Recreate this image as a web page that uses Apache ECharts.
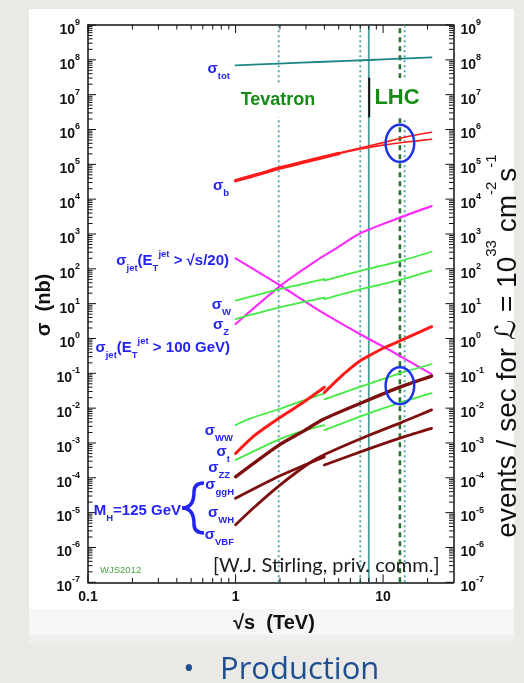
<!DOCTYPE html>
<html>
<head>
<meta charset="utf-8">
<script src="https://cdn.jsdelivr.net/npm/echarts@6/dist/echarts.min.js"></script>
<style>
  html, body { margin: 0; padding: 0; }
  body { width: 524px; height: 683px; background: #ebe9e5; position: relative; overflow: hidden; }
  #panel { position: absolute; left: 29px; top: 9px; width: 485px; height: 600px; background: #ffffff; }
  #band  { position: absolute; left: 29px; top: 609px; width: 485px; height: 26px; background: #f6f6f6; }
  #band2 { position: absolute; left: 29px; top: 635px; width: 485px; height: 8px; background: #efefef; }
  #chart { position: absolute; left: 0; top: 0; width: 524px; height: 683px; }
</style>
</head>
<body>
<div id="panel"></div><div id="band"></div><div id="band2"></div>
<div id="chart"></div>
<script>
// ---- axis ranges and ticks ----
const X_MIN = 0.1, X_MAX = 30;
const Y_MIN = 1e-7, Y_MAX = 1e9;
const xMajorTicks = [0.1, 1, 10];
const xMinorTicks = [0.2, 0.3, 0.4, 0.5, 0.6, 0.7, 0.8, 0.9, 2, 3, 4, 5, 6, 7, 8, 9, 20];
const yDecadeExps = [-7, -6, -5, -4, -3, -2, -1, 0, 1, 2, 3, 4, 5, 6, 7, 8, 9];
const yMinorMultipliers = [2, 3, 4, 5, 6, 7, 8, 9];

// ---- cross sections [sqrt(s) in TeV, sigma in nb] ----
const sigTot        = [[1, 6.9e7], [1.96, 7.8e7], [4, 8.8e7], [8, 9.9e7], [13, 1.08e8], [21.3, 1.17e8]];
const sigB          = [[1, 3.4e4], [1.5, 5.5e4], [1.96, 7.7e4], [3, 1.2e5], [4, 1.62e5], [5, 2.04e5]];
const sigBUpper     = [[5, 2.1e5], [7, 2.95e5], [10, 4.2e5], [14, 6.0e5], [21.3, 8.3e5]];
const sigBLower     = [[5, 2.0e5], [7, 2.75e5], [10, 3.55e5], [14, 4.3e5], [21.3, 5.25e5]];
const sigJetScaled  = [[1, 200], [1.96, 35.5], [3.7, 6.3], [7, 1.32], [11.2, 0.45], [21.3, 0.095]];
const sigJet100     = [[1, 2.6], [2.04, 34], [3.57, 178], [4.87, 400], [7, 1050], [13.1, 3000], [21.3, 6300]];
const sigWppbar     = [[1, 12.2], [1.96, 25.7], [4, 51]];
const sigWpp        = [[4, 45.7], [7, 87], [13, 166], [21.3, 309]];
const sigZppbar     = [[1, 3.62], [1.96, 7.66], [4, 14.8]];
const sigZpp        = [[4, 13.5], [7, 25.7], [13, 47.9], [21.3, 89]];
const sigWWppbar    = [[1, 3.27e-3], [1.25, 5.0e-3], [1.96, 9.3e-3], [2.8, 1.58e-2], [4, 2.63e-2]];
const sigWWpp       = [[4, 1.79e-2], [8, 5.0e-2], [13, 0.1], [21.3, 0.185]];
const sigTppbar     = [[1, 5.0e-4], [1.31, 1.5e-3], [1.74, 3.6e-3], [2.3, 7.9e-3], [3, 1.66e-2], [4, 3.98e-2]];
const sigTpp        = [[4, 2.82e-2], [5, 7.08e-2], [6, 0.138], [7, 0.229], [8, 0.316], [10, 0.525], [13, 0.851], [16, 1.26], [21.3, 2.18]];
const sigZZppbar    = [[1, 3.24e-4], [1.98, 1.27e-3], [2.89, 2.25e-3], [4, 3.27e-3]];
const sigZZpp       = [[4, 2.34e-3], [8, 7.1e-3], [13.6, 1.51e-2], [21.3, 2.69e-2]];
const sigGGH        = [[1, 1.07e-4], [1.97, 8.7e-4], [2.89, 2.19e-3], [3.94, 4.8e-3], [7.8, 1.66e-2], [13.1, 4.07e-2], [21.3, 8.3e-2]];
const sigWHppbar    = [[1, 2.57e-5], [1.98, 1.12e-4], [3, 2.4e-4], [4, 3.98e-4]];
const sigWHpp       = [[4, 2.34e-4], [8, 6.8e-4], [13.5, 1.45e-3], [21.3, 2.63e-3]];
const sigVBF        = [[1, 4.47e-6], [1.31, 1.32e-5], [1.98, 6.0e-5], [3.21, 2.75e-4], [4.08, 4.8e-4], [7.8, 1.58e-3], [13.5, 3.98e-3], [21.3, 8.9e-3]];

// ---- collider energies (TeV) ----
const tevatronEnergy = 1.96;
const lhcEnergies = [7, 8, 13, 14];
const lhcSeparator = [[8.05, 2.24e6], [8.05, 3.07e7]];
const highlightCenters = [[13, 4.0e5], [13, 0.044]];

const BLUE = '#2424f2';
const FONT = "'Liberation Sans', Arial, Helvetica, sans-serif";
const RED = '#ff1a1a', MAGENTA = '#ff2cff', GREEN = '#42ec42', BROWN = '#7d0f0f', TEAL = '#1d8585';

function curve(data, color, width, extra) {
  return Object.assign({
    type: 'line', data: data, showSymbol: false, smooth: 0.25, silent: true, z: 3,
    lineStyle: { color: color, width: width, cap: 'round' }
  }, extra || {});
}
function vline(x, style, yFrom, yTo) {
  return {
    type: 'line', data: [[x, yFrom], [x, yTo]], showSymbol: false, silent: true, z: 2,
    lineStyle: style
  };
}

// tick items: [x, y, kind(0 = x tick, 1 = y tick), length]
const tickData = [];
xMajorTicks.forEach(v => tickData.push([v, 1, 0, 8]));
xMinorTicks.forEach(v => tickData.push([v, 1, 0, 4.5]));
yDecadeExps.forEach(e => {
  tickData.push([1, Math.pow(10, e), 1, 8]);
  if (e < 9) yMinorMultipliers.forEach(m => tickData.push([1, m * Math.pow(10, e), 1, 4.5]));
});

function renderTick(params, api) {
  const kind = api.value(2), len = api.value(3);
  const st = { stroke: '#111', lineWidth: 1 };
  if (kind === 0) {
    const x = api.value(0);
    const b = api.coord([x, Y_MIN]), t = api.coord([x, Y_MAX]);
    return { type: 'group', children: [
      { type: 'line', shape: { x1: b[0], y1: b[1], x2: b[0], y2: b[1] - len }, style: st },
      { type: 'line', shape: { x1: t[0], y1: t[1], x2: t[0], y2: t[1] + len }, style: st }
    ]};
  }
  const y = api.value(1);
  const l = api.coord([X_MIN, y]), r = api.coord([X_MAX, y]);
  return { type: 'group', children: [
    { type: 'line', shape: { x1: l[0], y1: l[1], x2: l[0] + len, y2: l[1] }, style: st },
    { type: 'line', shape: { x1: r[0], y1: r[1], x2: r[0] - len, y2: r[1] }, style: st }
  ]};
}

function renderEllipse(params, api) {
  const p = api.coord([api.value(0), api.value(1)]);
  return { type: 'ellipse', shape: { cx: p[0], cy: p[1], rx: 14.3, ry: 18.5 },
           style: { fill: 'none', stroke: '#1e32eb', lineWidth: 2.5 } };
}

function powLabel(v) {
  const l = Math.log10(v), e = Math.round(l);
  if (Math.abs(l - e) > 1e-6) return '';
  return '{b|10}{e|' + e + '}';
}
function xLabel(v) {
  const l = Math.log10(v), e = Math.round(l);
  if (Math.abs(l - e) > 1e-6) return '';
  return e === -1 ? '0.1' : e === 0 ? '1' : '10';
}
const powRich = {
  b: { fontSize: 14, fontWeight: 'bold', fontFamily: FONT, color: '#111', lineHeight: 14, verticalAlign: 'top', padding: [5, 0, 0, 0] },
  e: { fontSize: 9, fontWeight: 'bold', fontFamily: FONT, color: '#111', lineHeight: 9, verticalAlign: 'top' }
};

// rich styles for the blue annotations
function tok(size, pad, weight, color, extra) {
  return Object.assign({ fontSize: size, fontWeight: weight || 'bold', fontFamily: FONT,
    fill: color || BLUE, color: color || BLUE, lineHeight: size, verticalAlign: 'top', padding: [pad, 0, 0, 0] }, extra || {});
}
const sigRich = { s: tok(15, 4), sub: tok(9.5, 14), sup: tok(9.5, 0) };
function sigLabel(text, x, y) {
  return { type: 'text', z: 100, x: x, y: y,
    style: { text: text, rich: sigRich, align: 'right', verticalAlign: 'middle', fill: BLUE } };
}

const titleRich = {
  n: tok(28, 10, 'normal', '#111'),
  L: tok(28, 10, 'normal', '#111', { fontStyle: 'italic', fontFamily: "'DejaVu Serif', 'DejaVu Sans', serif" }),
  p: tok(15, 0, 'normal', '#111')
};

const option = {
  animation: false,
  grid: { left: 88, right: 70.5, top: 25, bottom: 100.7 },
  xAxis: [
    { type: 'log', logBase: 10, min: X_MIN, max: X_MAX, interval: 1, position: 'bottom',
      axisLine: { lineStyle: { color: '#111', width: 1.5 } }, axisTick: { show: false }, splitLine: { show: false },
      axisLabel: { formatter: xLabel, interval: 0, margin: 8, fontSize: 14, fontWeight: 'bold', fontFamily: FONT, color: '#111', lineHeight: 14, showMinLabel: true } },
    { type: 'log', logBase: 10, min: X_MIN, max: X_MAX, interval: 1, position: 'top',
      axisLine: { lineStyle: { color: '#111', width: 1.5 } }, axisTick: { show: false }, splitLine: { show: false },
      axisLabel: { show: false } }
  ],
  yAxis: [
    { type: 'log', logBase: 10, min: Y_MIN, max: Y_MAX, interval: 1, position: 'left',
      axisLine: { show: true, lineStyle: { color: '#111', width: 1.5 } }, axisTick: { show: false }, splitLine: { show: false },
      axisLabel: { formatter: powLabel, rich: powRich, interval: 0, margin: 8, align: 'right', showMinLabel: true, showMaxLabel: true } },
    { type: 'log', logBase: 10, min: Y_MIN, max: Y_MAX, interval: 1, position: 'right',
      axisLine: { show: true, lineStyle: { color: '#111', width: 1.5 } }, axisTick: { show: false }, splitLine: { show: false },
      axisLabel: { formatter: powLabel, rich: powRich, interval: 0, margin: 7, align: 'left', showMinLabel: true, showMaxLabel: true } }
  ],
  series: [
    // collider energies
    vline(tevatronEnergy, { color: '#4aa3a3', width: 1.8, type: [2, 3] }, Y_MIN, Y_MAX),
    vline(lhcEnergies[0], { color: '#4aa3a3', width: 1.8, type: [2, 3] }, Y_MIN, Y_MAX),
    vline(lhcEnergies[1], { color: '#4d9e9a', width: 1.8 }, Y_MIN, Y_MAX),
    vline(lhcEnergies[2], { color: '#2f6f2f', width: 2.6, type: [5, 4] }, Y_MIN, Y_MAX),
    vline(lhcEnergies[3], { color: '#4aa3a3', width: 1.8, type: [2, 3] }, Y_MIN, Y_MAX),
    vline(lhcSeparator[0][0], { color: '#111', width: 2 }, lhcSeparator[0][1], lhcSeparator[1][1]),
    // cross sections
    curve(sigTot, TEAL, 1.8),
    curve(sigB, RED, 3.5),
    curve(sigBUpper, RED, 1.6),
    curve(sigBLower, RED, 1.6),
    curve(sigJetScaled, MAGENTA, 2.2),
    curve(sigJet100, MAGENTA, 2.2),
    curve(sigWppbar, GREEN, 1.8), curve(sigWpp, GREEN, 1.8),
    curve(sigZppbar, GREEN, 1.8), curve(sigZpp, GREEN, 1.8),
    curve(sigWWppbar, GREEN, 1.8), curve(sigWWpp, GREEN, 1.8),
    curve(sigZZppbar, GREEN, 1.8), curve(sigZZpp, GREEN, 1.8),
    curve(sigTppbar, RED, 3), curve(sigTpp, RED, 3),
    curve(sigGGH, BROWN, 3.4),
    curve(sigWHppbar, BROWN, 2.8), curve(sigWHpp, BROWN, 2.8),
    curve(sigVBF, BROWN, 2.8),
    // highlighted LHC 13 TeV points
    { type: 'custom', data: highlightCenters, renderItem: renderEllipse, silent: true, z: 6 },
    // axis ticks (inside, on all four sides)
    { type: 'custom', data: tickData, renderItem: renderTick, silent: true, z: 8 }
  ],
  graphic: [
    // collider names
    { type: 'text', z: 100, x: 278, y: 100, style: { text: 'Tevatron', fontSize: 18, fontWeight: 'bold', fontFamily: FONT, fill: '#168c16',
      align: 'center', verticalAlign: 'middle', backgroundColor: '#fff', padding: [8, 2] } },
    { type: 'text', z: 100, x: 397, y: 98, style: { text: 'LHC', fontSize: 22, fontWeight: 'bold', fontFamily: FONT, fill: '#168c16',
      align: 'center', verticalAlign: 'middle', backgroundColor: '#fff', padding: [9, 3] } },
    // process labels
    sigLabel('{s|σ}{sub|tot}', 230, 65),
    sigLabel('{s|σ}{sub|b}', 229, 182),
    sigLabel('{s|σ}{sub|jet}{s|(E}{sub|T}{sup|jet}{s| > √s/20)}', 229, 257),
    sigLabel('{s|σ}{sub|W}', 231, 301),
    sigLabel('{s|σ}{sub|Z}', 229, 321),
    sigLabel('{s|σ}{sub|jet}{s|(E}{sub|T}{sup|jet}{s| > 100 GeV)}', 230, 344),
    sigLabel('{s|σ}{sub|WW}', 233, 427),
    sigLabel('{s|σ}{sub|t}', 230, 448),
    sigLabel('{s|σ}{sub|ZZ}', 230, 464),
    sigLabel('{s|σ}{sub|ggH}', 234, 481),
    sigLabel('{s|σ}{sub|WH}', 234, 509),
    sigLabel('{s|σ}{sub|VBF}', 234, 531),
    sigLabel('{s|M}{sub|H}{s|=125 GeV}', 181, 507),
    // Higgs brace
    { type: 'bezierCurve', z: 100, shape: { x1: 204, y1: 483, cpx1: 197, cpy1: 483, cpx2: 194, cpy2: 486, x2: 194, y2: 492 }, style: { stroke: BLUE, lineWidth: 3.5, fill: 'none' } },
    { type: 'bezierCurve', z: 100, shape: { x1: 194, y1: 492, cpx1: 194, cpy1: 503, cpx2: 190, cpy2: 508, x2: 182, y2: 508 }, style: { stroke: BLUE, lineWidth: 3.5, fill: 'none' } },
    { type: 'bezierCurve', z: 100, shape: { x1: 182, y1: 508, cpx1: 190, cpy1: 508, cpx2: 194, cpy2: 513, x2: 194, y2: 524 }, style: { stroke: BLUE, lineWidth: 3.5, fill: 'none' } },
    { type: 'bezierCurve', z: 100, shape: { x1: 194, y1: 524, cpx1: 194, cpy1: 530, cpx2: 197, cpy2: 533, x2: 204, y2: 533 }, style: { stroke: BLUE, lineWidth: 3.5, fill: 'none' } },
    // credits
    { type: 'text', z: 100, x: 100, y: 570, style: { text: 'WJS2012', fontSize: 9.5, fontFamily: FONT, fill: '#46a046', verticalAlign: 'middle' } },
    { type: 'text', z: 100, x: 213, y: 566, style: { text: '[W.J. Stirling, priv. comm.]', fontSize: 20, fontFamily: "Lato, 'Open Sans', sans-serif", fill: '#1a1a1a', verticalAlign: 'middle' } },
    // axis titles
    { type: 'text', z: 100, x: 44, y: 305, rotation: Math.PI / 2, style: { text: 'σ  (nb)', fontSize: 20, fontWeight: 'bold', fontFamily: FONT, fill: '#111', align: 'center', verticalAlign: 'middle' } },
    { type: 'text', z: 100, x: 498, y: 346, rotation: Math.PI / 2, style: { text: '{n|events / sec for }{L|ℒ}{n| = 10}{p|33}{n| cm}{p|-2}{n|s}{p|-1}', rich: titleRich, align: 'center', verticalAlign: 'middle' } },
    { type: 'text', z: 100, x: 274, y: 623, style: { text: '√s  (TeV)', fontSize: 20, fontWeight: 'bold', fontFamily: FONT, fill: '#111', align: 'center', verticalAlign: 'middle' } },
    // slide bullet
    { type: 'text', z: 100, x: 189, y: 669, style: { text: '•', fontSize: 30, fontFamily: "'Open Sans', 'Noto Sans', sans-serif", fill: '#1d4f91', align: 'center', verticalAlign: 'middle' } },
    { type: 'text', z: 100, x: 220, y: 670, style: { text: 'Production', fontSize: 31, fontFamily: "'Open Sans', 'Noto Sans', sans-serif", fill: '#1d4f91', verticalAlign: 'middle' } }
  ]
};

const chart = echarts.init(document.getElementById('chart'), null, { renderer: 'canvas' });
chart.setOption(option);
</script>
</body>
</html>
